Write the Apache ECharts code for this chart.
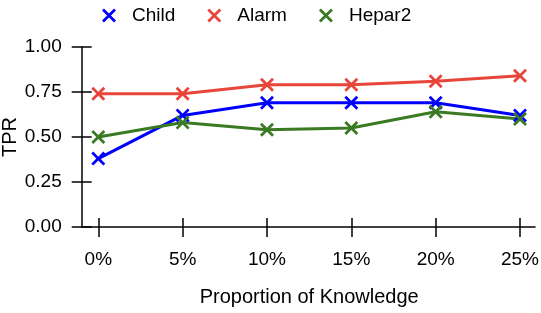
<!DOCTYPE html>
<html>
<head>
<meta charset="utf-8">
<script src="https://cdn.jsdelivr.net/npm/echarts@6/dist/echarts.min.js"></script>
<style>html,body{margin:0;padding:0;background:#fff}#c{width:541px;height:313px}</style>
</head>
<body>
<div id="c"></div>
<script>
const xValues = [0, 5, 10, 15, 20, 25];
const xTickLabels = ['0%', '5%', '10%', '15%', '20%', '25%'];
const seriesNames = ['Child', 'Alarm', 'Hepar2'];
const child = [0.38, 0.62, 0.69, 0.69, 0.69, 0.62];
const alarm = [0.74, 0.74, 0.79, 0.79, 0.81, 0.84];
const hepar2 = [0.50, 0.58, 0.54, 0.55, 0.64, 0.60];
const colors = ['#0000ff', '#e8463b', '#3a7a22'];

const X = 'path://M0,1.4L1.4,0L5,3.6L8.6,0L10,1.4L6.4,5L10,8.6L8.6,10L5,6.4L1.4,10L0,8.6L3.6,5Z';
const FONT = 'Liberation Sans, Arial, sans-serif';
const INK = '#000';

function mk(name, vals, color) {
  return {
    name: name, type: 'line', xAxisIndex: 0, yAxisIndex: 0,
    data: xValues.map((x, i) => [x, vals[i]]),
    symbol: X, symbolSize: 14,
    lineStyle: {color: color, width: 3},
    itemStyle: {color: color},
    emphasis: {disabled: true}
  };
}

const plotBox = {left: 98.3, right: 21, top: 47, bottom: 86, outerBoundsMode: 'none'};
const frameBox = {left: 81.7, right: 6, top: 47, bottom: 86, outerBoundsMode: 'none'};
const tickStyle = {color: INK, width: 1.5};
const xScale = {type: 'value', min: xValues[0], max: xValues[xValues.length - 1], interval: 5, splitLine: {show: false}};
const yScale = {type: 'value', min: 0, max: 1, interval: 0.25, splitLine: {show: false}};

const chart = echarts.init(document.getElementById('c'));
chart.setOption({
  animation: false,
  grid: [plotBox, Object.assign({}, plotBox), frameBox],
  legend: {
    left: 97, top: 1, itemWidth: 36, itemHeight: 14, itemGap: 32,
    icon: X,
    textStyle: {fontFamily: FONT, fontSize: 19, color: INK},
    data: seriesNames
  },
  xAxis: [
    Object.assign({}, xScale, {
      gridIndex: 0,
      name: 'Proportion of Knowledge', nameLocation: 'middle', nameGap: 60,
      nameTextStyle: {fontFamily: FONT, fontSize: 20, color: INK},
      axisLine: {show: false, onZero: false},
      axisTick: {show: true, length: 10, lineStyle: tickStyle},
      axisLabel: {show: true, margin: 23, fontFamily: FONT, fontSize: 19, color: INK,
        formatter: v => xTickLabels[xValues.indexOf(v)]}
    }),
    Object.assign({}, xScale, {
      gridIndex: 1,
      axisLine: {show: false, onZero: false},
      axisTick: {show: true, inside: true, length: 9, lineStyle: tickStyle},
      axisLabel: {show: false}
    }),
    Object.assign({}, xScale, {
      gridIndex: 2, min: -1, max: 26,
      axisLine: {show: true, onZero: false, lineStyle: {color: INK, width: 1.5}},
      axisTick: {show: false},
      axisLabel: {show: false}
    })
  ],
  yAxis: [
    Object.assign({}, yScale, {
      gridIndex: 0, offset: 16.6,
      name: 'TPR', nameLocation: 'middle', nameGap: 61, nameMoveOverlap: false,
      nameTextStyle: {fontFamily: FONT, fontSize: 20, color: INK},
      axisLine: {show: true, onZero: false, lineStyle: {color: INK, width: 1.5}},
      axisTick: {show: true, length: 10, lineStyle: tickStyle},
      axisLabel: {show: true, margin: 20, fontFamily: FONT, fontSize: 19, color: INK,
        formatter: v => v.toFixed(2)}
    }),
    Object.assign({}, yScale, {
      gridIndex: 1, offset: 16.6,
      axisLine: {show: false, onZero: false},
      axisTick: {show: true, inside: true, length: 10, lineStyle: tickStyle},
      axisLabel: {show: false}
    }),
    Object.assign({}, yScale, {
      gridIndex: 2, show: false
    })
  ],
  series: [mk(seriesNames[0], child, colors[0]), mk(seriesNames[1], alarm, colors[1]), mk(seriesNames[2], hepar2, colors[2])]
});
</script>
</body>
</html>
